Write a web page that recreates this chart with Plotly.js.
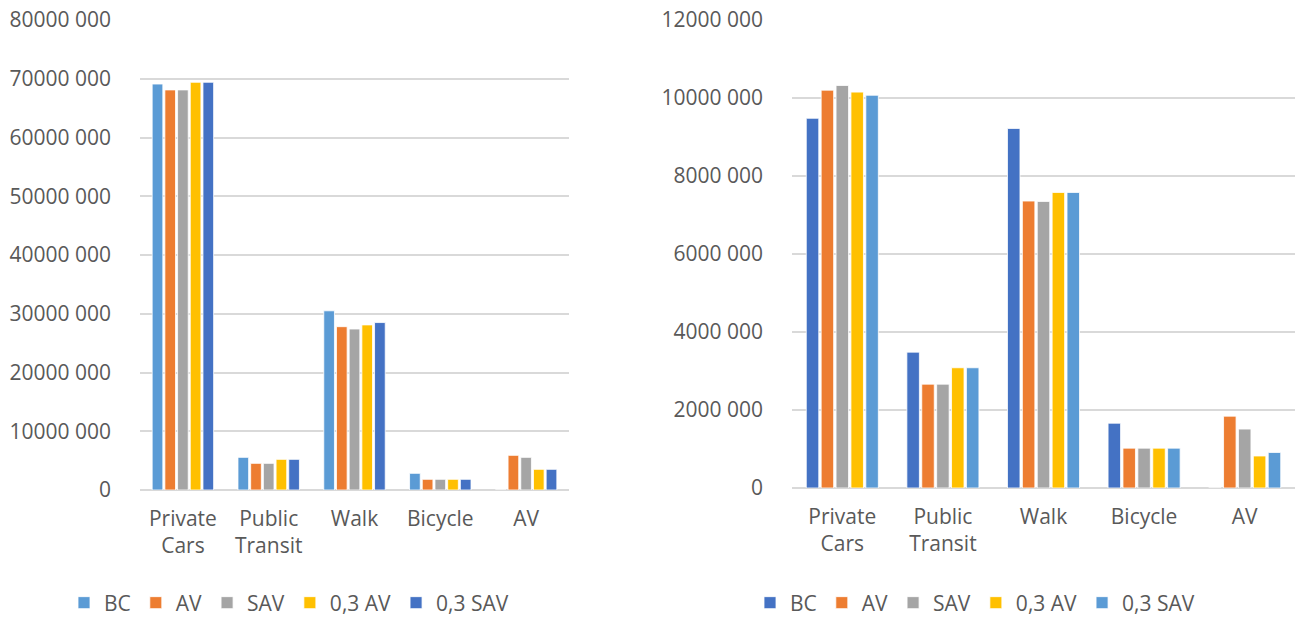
<!DOCTYPE html>
<html>
<head>
<meta charset="utf-8">
<script src="https://cdn.plot.ly/plotly-3.0.1.min.js"></script>
<style>html,body{margin:0;padding:0;background:#fff;}#chart{width:1303px;height:617px;}</style>
</head>
<body>
<div id="chart"></div>
<script>
const categories = ["Private Cars", "Public Transit", "Walk", "Bicycle", "AV"];
const categoryLabels = ["Private<br>Cars", "Public<br>Transit", "Walk", "Bicycle", "AV"];
const seriesNames = ["BC", "AV", "SAV", "0,3 AV", "0,3 SAV"];

// Left chart values
const leftBC     = [69100000, 5560000, 30500000, 2840000, 0];
const leftAV     = [68100000, 4540000, 27800000, 1820000, 5900000];
const leftSAV    = [68100000, 4540000, 27400000, 1820000, 5560000];
const left03AV   = [69400000, 5220000, 28100000, 1820000, 3520000];
const left03SAV  = [69400000, 5220000, 28500000, 1820000, 3520000];

// Right chart values
const rightBC    = [9470000, 3480000, 9210000, 1660000, 0];
const rightAV    = [10190000, 2660000, 7350000, 1020000, 1840000];
const rightSAV   = [10310000, 2660000, 7340000, 1020000, 1510000];
const right03AV  = [10140000, 3080000, 7570000, 1020000, 820000];
const right03SAV = [10060000, 3080000, 7570000, 1020000, 910000];

const leftTickVals = [0, 10000000, 20000000, 30000000, 40000000, 50000000, 60000000, 70000000, 80000000];
const leftTickText = ["0", "10000 000", "20000 000", "30000 000", "40000 000", "50000 000", "60000 000", "70000 000", "80000 000"];
const rightTickVals = [0, 2000000, 4000000, 6000000, 8000000, 10000000, 12000000];
const rightTickText = ["0", "2000 000", "4000 000", "6000 000", "8000 000", "10000 000", "12000 000"];

const leftColors  = ["#5B9BD5", "#ED7D31", "#A5A5A5", "#FFC000", "#4472C4"];
const rightColors = ["#4472C4", "#ED7D31", "#A5A5A5", "#FFC000", "#5B9BD5"];

const leftSeries  = [leftBC, leftAV, leftSAV, left03AV, left03SAV];
const rightSeries = [rightBC, rightAV, rightSAV, right03AV, right03SAV];

const W = 1303, H = 617;
const FONT = "Open Sans, Noto Sans, sans-serif";
const TXT = "#595959";

const traces = [];
leftSeries.forEach((vals, i) => {
  traces.push({
    type: "bar", x: categories, y: vals, name: seriesNames[i],
    xaxis: "x", yaxis: "y", legend: "legend",
    marker: {color: leftColors[i], line: {color: "#ffffff", width: 0.8}},
    hoverinfo: "skip"
  });
});
rightSeries.forEach((vals, i) => {
  traces.push({
    type: "bar", x: categories, y: vals, name: seriesNames[i],
    xaxis: "x2", yaxis: "y2", legend: "legend2",
    marker: {color: rightColors[i], line: {color: "#ffffff", width: 0.8}},
    hoverinfo: "skip"
  });
});

const xCommon = {
  type: "category", tickmode: "array", tickvals: categories, ticktext: categoryLabels,
  showgrid: false, zeroline: false, showline: false, ticks: "",
  tickfont: {family: FONT, size: 21, color: TXT}, ticklabelstandoff: 14,
  fixedrange: true, automargin: false
};
const yCommon = {
  showgrid: true, gridcolor: "#D9D9D9", gridwidth: 2,
  zeroline: true, zerolinecolor: "#D9D9D9", zerolinewidth: 2,
  showline: false, ticks: "", tickmode: "array",
  tickfont: {family: FONT, size: 21, color: TXT},
  ticklabelstandoff: 28, fixedrange: true, automargin: false
};

const layout = {
  width: W, height: H,
  margin: {l: 0, r: 0, t: 0, b: 0, autoexpand: false},
  paper_bgcolor: "#ffffff", plot_bgcolor: "#ffffff",
  barmode: "group", bargap: 0.26, bargroupgap: 0.16,
  font: {family: FONT, color: TXT},
  xaxis: Object.assign({}, xCommon, {domain: [140 / W, 569 / W], anchor: "y"}),
  yaxis: Object.assign({}, yCommon, {domain: [1 - 490 / H, 1 - 20 / H], range: [0, 80000000], tickvals: leftTickVals, ticktext: leftTickText, anchor: "x"}),
  xaxis2: Object.assign({}, xCommon, {domain: [792 / W, 1295 / W], anchor: "y2"}),
  yaxis2: Object.assign({}, yCommon, {domain: [1 - 488 / H, 1 - 19.5 / H], range: [0, 12000000], tickvals: rightTickVals, ticktext: rightTickText, anchor: "x2"}),
  legend: {
    orientation: "h", x: 64 / W, xanchor: "left", y: 1 - 603 / H, yanchor: "middle",
    font: {family: FONT, size: 21, color: TXT}, bgcolor: "rgba(0,0,0,0)", itemclick: false, itemdoubleclick: false
  },
  legend2: {
    orientation: "h", x: 750 / W, xanchor: "left", y: 1 - 603 / H, yanchor: "middle",
    font: {family: FONT, size: 21, color: TXT}, bgcolor: "rgba(0,0,0,0)", itemclick: false, itemdoubleclick: false
  }
};

Plotly.newPlot("chart", traces, layout, {displayModeBar: false, staticPlot: true});
</script>
</body>
</html>
